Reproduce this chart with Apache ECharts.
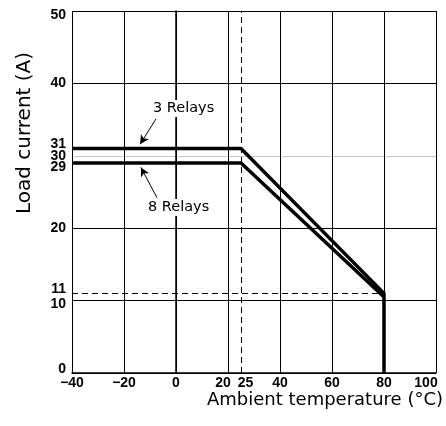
<!DOCTYPE html>
<html>
<head>
<meta charset="utf-8">
<script src="https://cdn.jsdelivr.net/npm/echarts@6/dist/echarts.min.js"></script>
<style>
  html, body { margin: 0; padding: 0; background: #fff; }
  #chart { width: 446px; height: 426px; }
</style>
</head>
<body>
<div id="chart"></div>
<script>
// curve data
var temps3 = [-40, 25, 80, 80];
var load3 = [31, 31, 11, 0];
var temps8 = [-40, 25, 80];
var load8 = [29, 29, 10.5];

// tick labels
var xLabels = [-40, -20, 0, 20, 25, 40, 60, 80, 100];
var yLabels = [0, 10, 11, 20, 29, 30, 31, 40, 50];

// dashed reference lines
var refTemp = 25;
var refLoad = 11;

var font = 'Liberation Sans, Arial, sans-serif';
var titleFont = 'DejaVu Sans, sans-serif';

function pairs(xs, ys) {
    var out = [];
    for (var i = 0; i < xs.length; i++) out.push([xs[i], ys[i]]);
    return out;
}

function tickStyle(pad) {
    return {fontFamily: font, fontSize: 14, fontWeight: 'bold', color: '#000', padding: pad};
}

var chart = echarts.init(document.getElementById('chart'), null, {renderer: 'canvas'});

var option = {
    animation: false,
    backgroundColor: '#fff',
    grid: {left: 72, right: 10, top: 11, bottom: 53},
    xAxis: [{
        type: 'value', min: -40, max: 100, interval: 20, position: 'bottom',
        axisLine: {lineStyle: {color: '#000', width: 1.5}},
        axisTick: {show: false},
        axisLabel: {show: false},
        splitLine: {show: true, lineStyle: {color: '#000', width: 1}}
    }, {
        type: 'value', min: -40, max: 100, position: 'bottom',
        axisLine: {show: false},
        axisTick: {show: false},
        splitLine: {show: false},
        axisLabel: {
            customValues: xLabels, margin: 3,
            formatter: function (v) {
                var s = v < 0 ? '\u2212' + Math.abs(v) : '' + v;
                if (v === 20) return '{l|' + s + '}';
                if (v === 25) return '{r|' + s + '}';
                if (v === 100) return '{ll|' + s + '}';
                return '{n|' + s + '}';
            },
            rich: {
                l: tickStyle([0, 10, 0, 0]),
                ll: tickStyle([0, 20, 0, 0]),
                r: tickStyle([0, 0, 0, 9]),
                n: tickStyle([0, 0, 0, 0])
            }
        }
    }],
    yAxis: [{
        type: 'value', min: 0, max: 50, interval: 10, position: 'left',
        axisLine: {show: true, lineStyle: {color: '#000', width: 1.5}},
        axisTick: {show: false},
        axisLabel: {show: false},
        splitLine: {show: true, lineStyle: {color: ['#000', '#000', '#000', '#c8c8c8', '#000', '#000'], width: 1}}
    }, {
        type: 'value', min: 0, max: 50, position: 'left',
        axisLine: {show: false},
        axisTick: {show: false},
        splitLine: {show: false},
        axisLabel: {
            customValues: yLabels, margin: 6,
            formatter: function (v) {
                if (v === 31 || v === 11 || v === 0) return '{up|' + v + '}';
                if (v === 29 || v === 10 || v === 50) return '{down|' + v + '}';
                return '{n|' + v + '}';
            },
            rich: {
                up: tickStyle([0, 0, 8, 0]),
                down: tickStyle([8, 0, 0, 0]),
                n: tickStyle([0, 0, 0, 0])
            }
        }
    }],
    series: [{
        name: 'refs', type: 'line', data: [], silent: true,
        markLine: {
            silent: true, symbol: ['none', 'none'], label: {show: false},
            lineStyle: {color: '#000', type: [6, 4], width: 1},
            data: [
                [{coord: [-40, refLoad]}, {coord: [80, refLoad]}],
                [{coord: [refTemp, 0]}, {coord: [refTemp, 50]}]
            ]
        }
    }, {
        name: '3 Relays', type: 'line', data: pairs(temps3, load3),
        showSymbol: false, lineStyle: {color: '#000', width: 3.5}, z: 5,
        markLine: {
            silent: true, symbol: ['none', 'arrow'], symbolSize: [7, 9], label: {show: false},
            lineStyle: {color: '#000', type: 'solid', width: 1},
            data: [[{coord: [-7.7, 35.1]}, {coord: [-13.8, 31.6]}]]
        }
    }, {
        name: '8 Relays', type: 'line', data: pairs(temps8, load8),
        showSymbol: false, lineStyle: {color: '#000', width: 3.5}, z: 5,
        markLine: {
            silent: true, symbol: ['none', 'arrow'], symbolSize: [7, 9], label: {show: false},
            lineStyle: {color: '#000', type: 'solid', width: 1},
            data: [[{coord: [-7.3, 24.2]}, {coord: [-13.5, 28.4]}]]
        }
    }],
    graphic: [{
        type: 'text', left: 152, top: 100, z: 10,
        style: {text: '3 Relays', font: '14.5px ' + titleFont, fill: '#000', backgroundColor: '#fff', padding: [1, 1]}
    }, {
        type: 'text', left: 147, top: 199, z: 10,
        style: {text: '8 Relays', font: '14.5px ' + titleFont, fill: '#000', backgroundColor: '#fff', padding: [1, 1]}
    }, {
        type: 'text', x: 25, y: 133, rotation: Math.PI / 2,
        style: {text: 'Load current (A)', font: '20px ' + titleFont, fill: '#000', align: 'center', verticalAlign: 'middle'}
    }, {
        type: 'text', right: 3, top: 391,
        style: {text: 'Ambient temperature (\u00b0C)', font: '18px ' + titleFont, fill: '#000'}
    }]
};

chart.setOption(option);
</script>
</body>
</html>
